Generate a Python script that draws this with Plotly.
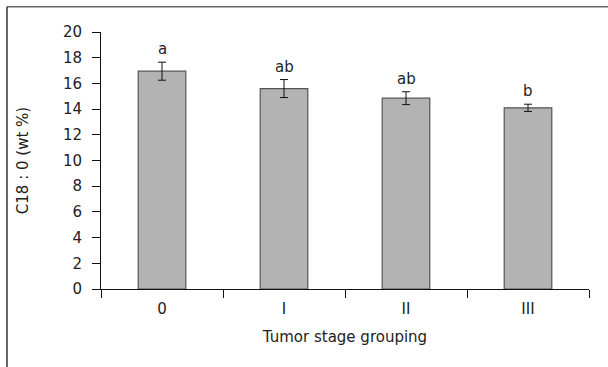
import plotly.graph_objects as go

categories = ["0", "I", "II", "III"]
values = [16.95, 15.6, 14.85, 14.1]
errors = [0.7, 0.7, 0.5, 0.28]
letters = ["a", "ab", "ab", "b"]
y_ticks = [0, 2, 4, 6, 8, 10, 12, 14, 16, 18, 20]

FONT = "DejaVu Sans"
TXT = "#222222"
FS = 15

fig = go.Figure()
fig.add_trace(go.Bar(
    x=categories, y=values, width=0.39,
    marker=dict(color="#b3b3b3", line=dict(color="#555555", width=1.2)),
    error_y=dict(type="data", array=errors, visible=True, color="#111111",
                 thickness=1, width=4),
))

for c, v, e, t in zip(categories, values, errors, letters):
    fig.add_annotation(x=c, y=v + e, text=t, showarrow=False, yanchor="bottom",
                       yshift=2, font=dict(family=FONT, size=FS, color=TXT))

L, R, T, B = 101, 19, 31.7, 78
W, H = 608, 367
pw, ph = W - L - R, H - T - B
# outer frame (top and left edges)
x0 = (7 - L) / pw
x1 = (W - L) / pw
ytop = (H - B - 6.5) / ph
ybot = (H - B - H) / ph
fig.add_shape(type="line", xref="paper", yref="paper", x0=x0, x1=x1, y0=ytop, y1=ytop,
              line=dict(color="#666666", width=1.5))
fig.add_shape(type="line", xref="paper", yref="paper", x0=x0, x1=x0, y0=ybot, y1=ytop,
              line=dict(color="#333333", width=1.5))

fig.update_layout(
    width=W, height=H,
    margin=dict(l=L, r=R, t=T, b=B, autoexpand=False),
    paper_bgcolor="white", plot_bgcolor="white",
    showlegend=False,
    font=dict(family=FONT, size=FS, color=TXT),
    xaxis=dict(
        showline=True, linecolor="#111111", linewidth=1,
        ticks="outside", tickson="boundaries", ticklen=8, tickcolor="#111111",
        showgrid=False, automargin=False,
        title=dict(text="Tumor stage grouping", standoff=14, font=dict(size=FS)),
        tickfont=dict(size=FS), ticklabelstandoff=6,
    ),
    yaxis=dict(
        range=[0, 20], tickvals=y_ticks,
        showline=True, linecolor="#111111", linewidth=1,
        ticks="outside", ticklen=8, tickcolor="#111111",
        showgrid=False, zeroline=False, automargin=False,
        title=dict(text="C18 : 0 (wt %)", standoff=30, font=dict(size=FS)),
        tickfont=dict(size=FS), ticklabelstandoff=7,
    ),
)

fig.write_html("out.html", config={"displayModeBar": False},
               post_script="document.body.style.margin='0';")
